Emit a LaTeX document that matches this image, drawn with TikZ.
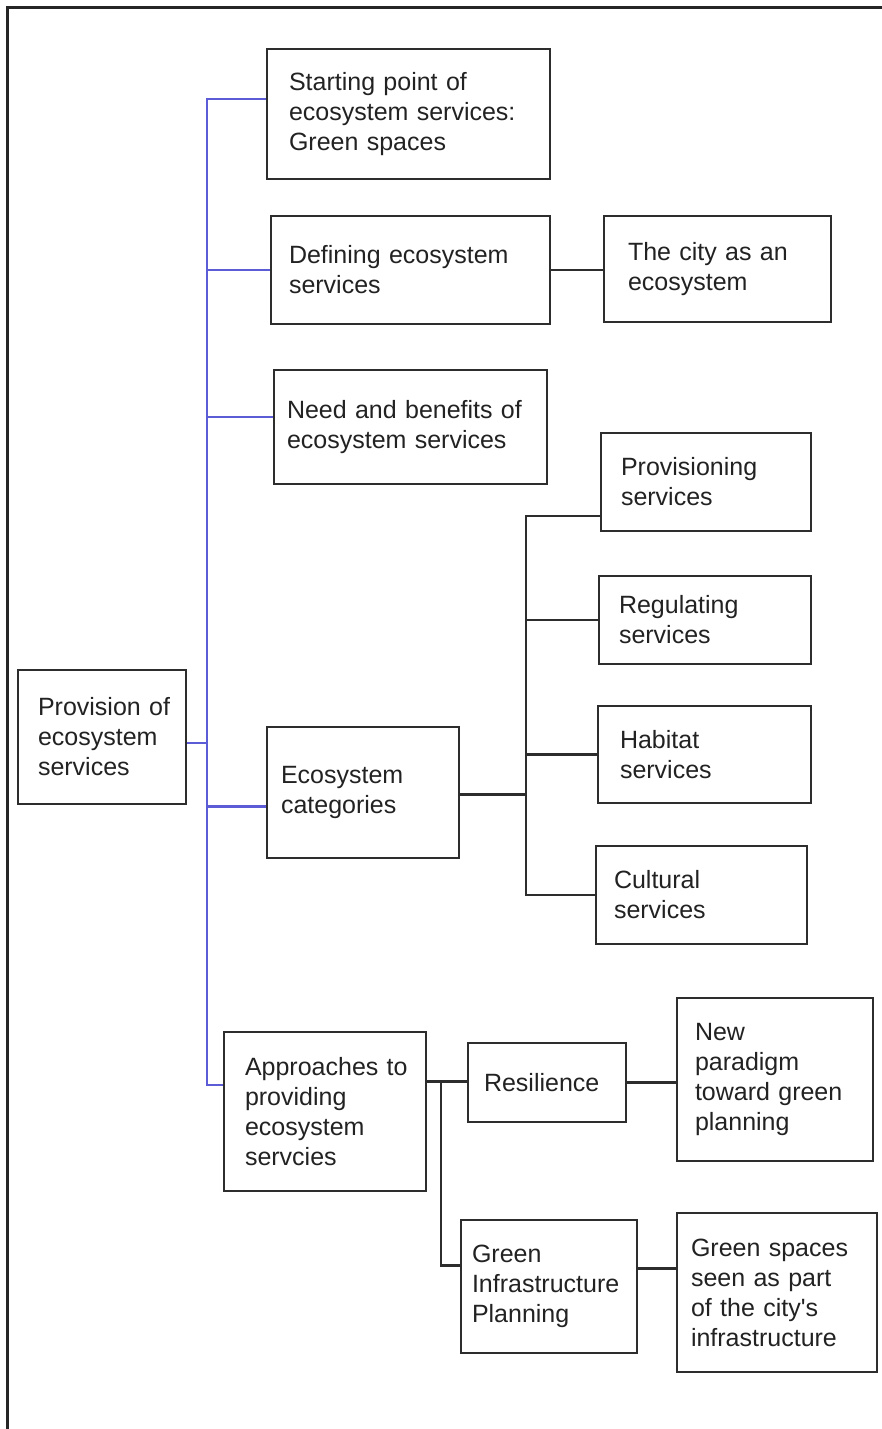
\documentclass[tikz,border=0pt]{standalone}
\usepackage{fontspec}
\setmainfont{Liberation Sans}[Ligatures=TeXOff]
\definecolor{txt}{RGB}{34,34,34}
\definecolor{boxc}{RGB}{45,45,45}
\definecolor{trunk}{RGB}{92,92,214}
\tikzset{
  bx/.style={draw=boxc, line width=2pt, anchor=north west, align=left,
    inner ysep=0pt, text=txt, font=\fontsize{25}{30}\selectfont},
  ln/.style={draw=boxc, line width=2.2pt},
  bl/.style={draw=trunk, line width=2.2pt},
}
\begin{document}
\begin{tikzpicture}[x=1pt,y=-1pt]
\useasboundingbox (0,0) rectangle (882,1429);
\draw[line width=3pt, draw=black!85] (7.5,1429) -- (7.5,7.5) -- (882,7.5);

% boxes
\node[bx, minimum width=283pt, minimum height=130pt, inner xsep=22pt, text width=239pt] (start) at (266,48)
  {\mbox{Starting point of}\\\mbox{ecosystem services:}\\\mbox{Green spaces}};
\node[bx, minimum width=279pt, minimum height=108pt, inner xsep=18pt, text width=243pt] (def) at (270,215)
  {\mbox{Defining ecosystem}\\\mbox{services}};
\node[bx, minimum width=227pt, minimum height=106pt, inner xsep=24pt, text width=179pt] (city) at (603,215)
  {\mbox{The city as an}\\\mbox{ecosystem}};
\node[bx, minimum width=273pt, minimum height=114pt, inner xsep=13pt, text width=247pt] (need) at (273,369)
  {\mbox{Need and benefits of}\\\mbox{ecosystem services}};
\node[bx, minimum width=210pt, minimum height=98pt, inner xsep=20pt, text width=170pt] (prov) at (600,432)
  {\mbox{Provisioning}\\\mbox{services}};
\node[bx, minimum width=212pt, minimum height=88pt, inner xsep=20pt, text width=172pt] (reg) at (598,575)
  {\mbox{Regulating}\\\mbox{services}};
\node[bx, minimum width=213pt, minimum height=97pt, inner xsep=22pt, text width=169pt] (hab) at (597,705)
  {\mbox{Habitat}\\\mbox{services}};
\node[bx, minimum width=211pt, minimum height=98pt, inner xsep=18pt, text width=175pt] (cult) at (595,845)
  {\mbox{Cultural}\\\mbox{services}};
\node[bx, minimum width=168pt, minimum height=134pt, inner xsep=20pt, text width=128pt] (root) at (17,669)
  {\mbox{Provision of}\\\mbox{ecosystem}\\\mbox{services}};
\node[bx, minimum width=192pt, minimum height=131pt, inner xsep=14pt, text width=164pt] (cat) at (266,726)
  {\mbox{Ecosystem}\\\mbox{categories}};
\node[bx, minimum width=202pt, minimum height=159pt, inner xsep=21pt, text width=160pt] (appr) at (223,1031)
  {\mbox{Approaches to}\\\mbox{providing}\\\mbox{ecosystem}\\\mbox{servcies}};
\node[bx, minimum width=158pt, minimum height=79pt, inner xsep=16pt, text width=126pt] (res) at (467,1042)
  {\mbox{Resilience}};
\node[bx, minimum width=196pt, minimum height=163pt, inner xsep=18pt, text width=160pt] (par) at (676,997)
  {\mbox{New}\\\mbox{paradigm}\\\mbox{toward green}\\\mbox{planning}};
\node[bx, minimum width=176pt, minimum height=133pt, inner xsep=11pt, text width=154pt] (gip) at (460,1219)
  {\mbox{Green}\\\mbox{Infrastructure}\\\mbox{Planning}};
\node[bx, minimum width=200pt, minimum height=159pt, inner xsep=14pt, text width=172pt] (gs) at (676,1212)
  {\mbox{Green spaces}\\\mbox{seen as part}\\\mbox{of the  city's}\\\mbox{infrastructure}};

% blue trunk from the root
\coordinate (tt) at (207,98);
\coordinate (tb) at (207,1085);
\draw[bl] ([yshift=15pt]start.west) -- ([yshift=15pt]start.west -| tt) -- (tb) -- (tb -| appr.west);
\draw[bl] (def.west) -- (def.west -| tt);
\draw[bl] ([yshift=10pt]need.west) -- ([yshift=10pt]need.west -| tt);
\draw[bl] ([yshift=-6pt]root.east) -- ([yshift=-6pt]root.east -| tt);
\draw[bl] ([yshift=-14pt]cat.west) -- ([yshift=-14pt]cat.west -| tt);

% definition branch
\draw[ln] (def.east) -- (def.east -| city.west);

% categories branch
\coordinate (ex) at (526,0);
\draw[ln] ([yshift=-2pt]cat.east) -- ([yshift=-2pt]cat.east -| ex);
\draw[ln] ([yshift=-34pt]prov.west) -| (ex |- cult.west) -- (cult.west);
\draw[ln] (reg.west) -- (reg.west -| ex);
\draw[ln] (hab.west) -- (hab.west -| ex);

% approaches branch
\coordinate (ax) at (441,0);
\draw[ln] ([yshift=30pt]appr.east) -- ([yshift=30pt]appr.east -| res.west);
\draw[ln] (ax |- res.west) |- ([yshift=21pt]gip.west);
\draw[ln] (res.east) -- (res.east -| par.west);
\draw[ln] ([yshift=18pt]gip.east) -- ([yshift=18pt]gip.east -| gs.west);
\end{tikzpicture}
\end{document}
